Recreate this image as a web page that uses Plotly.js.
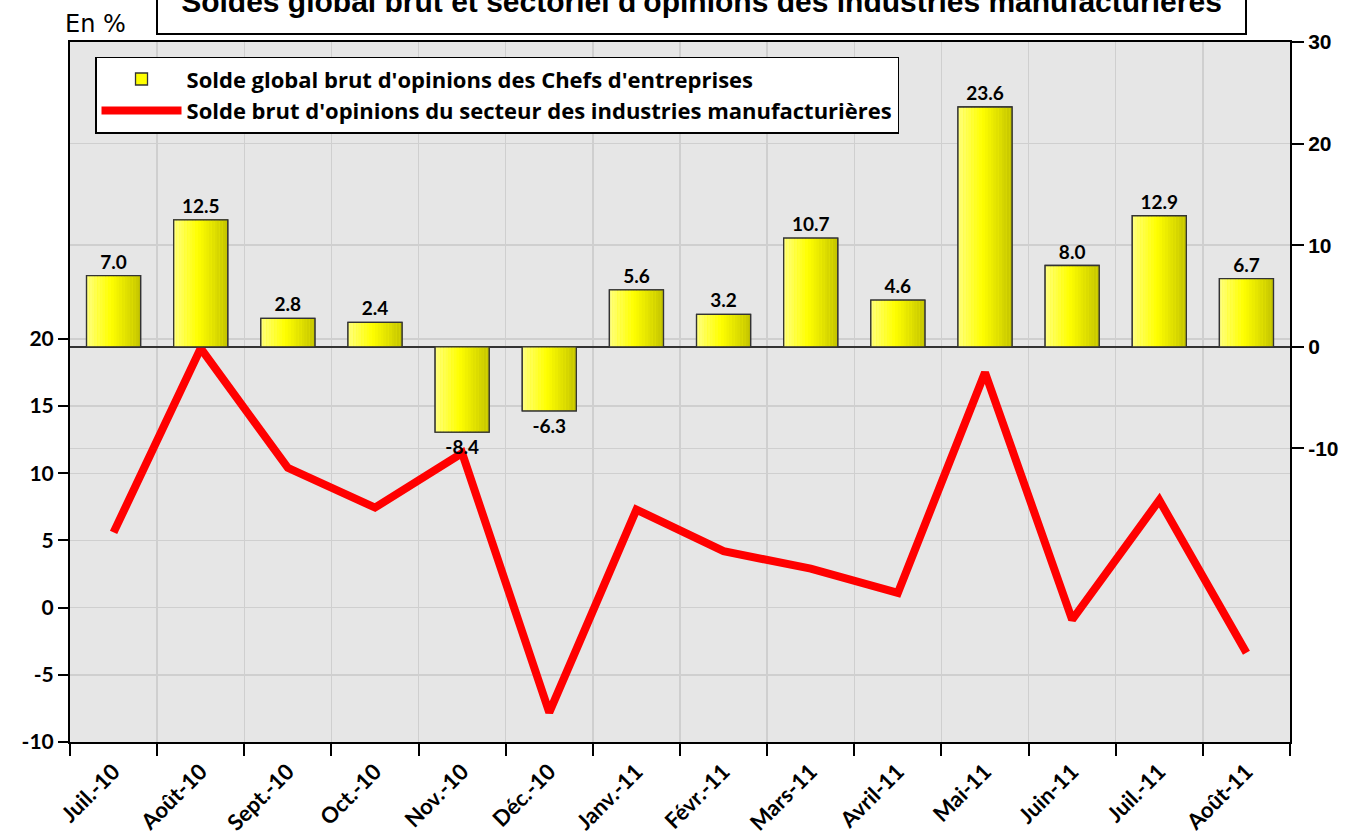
<!DOCTYPE html>
<html>
<head>
<meta charset="utf-8">
<script src="https://cdn.plot.ly/plotly-3.0.1.min.js"></script>
<style>html,body{margin:0;padding:0;background:#fff;}#chart{width:1351px;height:836px;}</style>
</head>
<body>
<div id="chart"></div>
<script>
const months = ["Juil.-10","Août-10","Sept.-10","Oct.-10","Nov.-10","Déc.-10","Janv.-11","Févr.-11","Mars-11","Avril-11","Mai-11","Juin-11","Juil.-11","Août-11"];
const soldeGlobal = [7.0, 12.5, 2.8, 2.4, -8.4, -6.3, 5.6, 3.2, 10.7, 4.6, 23.6, 8.0, 12.9, 6.7];
const soldeManuf = [5.6, 19.3, 10.4, 7.45, 11.5, -7.8, 7.3, 4.2, 2.9, 1.1, 17.5, -0.9, 8.0, -3.35];
const leftTicks = [-10, -5, 0, 5, 10, 15, 20];
const rightTicks = [-10, 0, 10, 20, 30];
const nameGlobal = "Solde global brut d'opinions des Chefs d'entreprises";
const nameManuf = "Solde brut d'opinions du secteur des industries manufacturières";
const titleText = "Soldes global brut et sectoriel d'opinions des industries manufacturières";

const BAR_W = 0.62;
const traces = [];
// base bar (legend entry, labels)
traces.push({
  type: 'bar', x: months, y: soldeGlobal, yaxis: 'y2', name: nameGlobal,
  width: BAR_W,
  marker: {color: '#ffff00', line: {color: '#333333', width: 1.3}},
  text: soldeGlobal.map(v => v.toFixed(1)), textposition: 'outside', cliponaxis: false,
  textfont: {family: 'Lato, sans-serif', size: 19, color: '#000', weight: 'bold'},
  hoverinfo: 'skip'
});
// gradient slices (styling only)
const N = 20;
function sliceColor(t) {
  let r, g, b;
  if (t < 0.45) {
    const u = t / 0.45;
    r = 255; g = 255; b = Math.round(130 * (1 - u));
  } else {
    const u = (t - 0.45) / 0.55;
    r = Math.round(255 - 60 * u); g = Math.round(255 - 60 * u); b = 0;
  }
  return `rgb(${r},${g},${b})`;
}
for (let i = 0; i < N; i++) {
  const w = BAR_W / N;
  traces.push({
    type: 'bar', x: months, y: soldeGlobal, yaxis: 'y2', showlegend: false,
    width: w * 1.05, offset: -BAR_W / 2 + i * w,
    marker: {color: sliceColor((i + 0.5) / N), line: {width: 0}},
    hoverinfo: 'skip'
  });
}
// outline on top
traces.push({
  type: 'bar', x: months, y: soldeGlobal, yaxis: 'y2', showlegend: false,
  width: BAR_W,
  marker: {color: 'rgba(0,0,0,0)', line: {color: '#333333', width: 1.3}},
  hoverinfo: 'skip'
});
traces.push({
  type: 'scatter', mode: 'lines', x: months, y: soldeManuf, yaxis: 'y', name: nameManuf,
  line: {color: '#ff0000', width: 8}, hoverinfo: 'skip'
});

const layout = {
  width: 1351, height: 836,
  margin: {l: 70, r: 61, t: 42, b: 94},
  paper_bgcolor: '#ffffff', plot_bgcolor: '#e6e6e6',
  barmode: 'overlay',
  showlegend: true,
  legend: {x: 0.0205, y: 0.979, xanchor: 'left', yanchor: 'top', bgcolor: '#ffffff',
    bordercolor: '#000', borderwidth: 1.5, itemwidth: 80,
    font: {family: 'Open Sans, sans-serif', size: 22, color: '#000', weight: 'bold'}},
  xaxis: {type: 'category', tickson: 'boundaries', ticks: 'outside', ticklen: 12, tickwidth: 2, tickcolor: '#000',
    showgrid: true, gridcolor: '#cfcfcf', gridwidth: 1.5,
    showline: true, linecolor: '#000', linewidth: 2, mirror: true,
    tickangle: -45, ticklabelstandoff: 6,
    tickfont: {family: 'Lato, sans-serif', size: 22, color: '#000', weight: 'bold'},
    range: [-0.5, 13.5]},
  yaxis: {range: [-10, 42.1], tickvals: leftTicks, ticktext: leftTicks.map(String),
    ticks: 'outside', ticklen: 10, tickwidth: 2, tickcolor: '#000',
    showgrid: true, gridcolor: '#cfcfcf', gridwidth: 1.5, zeroline: false,
    showline: true, linecolor: '#000', linewidth: 2,
    tickfont: {family: 'Lato, sans-serif', size: 21, color: '#000', weight: 'bold'}},
  yaxis2: {range: [-38.9, 30], tickvals: rightTicks, ticktext: rightTicks.map(String),
    overlaying: 'y', side: 'right',
    ticks: 'outside', ticklen: 12, tickwidth: 2, tickcolor: '#000',
    showgrid: true, gridcolor: '#cfcfcf', gridwidth: 1.5,
    zeroline: true, zerolinecolor: '#333', zerolinewidth: 1.5,
    showline: true, linecolor: '#000', linewidth: 2,
    tickfont: {family: 'Liberation Sans, Arial, sans-serif', size: 21, color: '#000', weight: 'bold'}},
  annotations: [
    {text: titleText, xref: 'paper', yref: 'paper', x: 0.5176, y: 1.01, xanchor: 'center', yanchor: 'bottom',
     showarrow: false, width: 1083, height: 60, valign: 'middle', bgcolor: '#fff',
     bordercolor: '#000', borderwidth: 2, borderpad: 2,
     font: {family: 'Liberation Sans, Arial, sans-serif', size: 30, color: '#000', weight: 'bold'}},
    {text: 'En %', xref: 'paper', yref: 'paper', x: 0.0205, y: 1.026, xanchor: 'center', yanchor: 'middle',
     showarrow: false, font: {family: 'DejaVu Sans, sans-serif', size: 24, color: '#000'}}
  ]
};

Plotly.newPlot('chart', traces, layout, {displayModeBar: false, staticPlot: true});
</script>
</body>
</html>
